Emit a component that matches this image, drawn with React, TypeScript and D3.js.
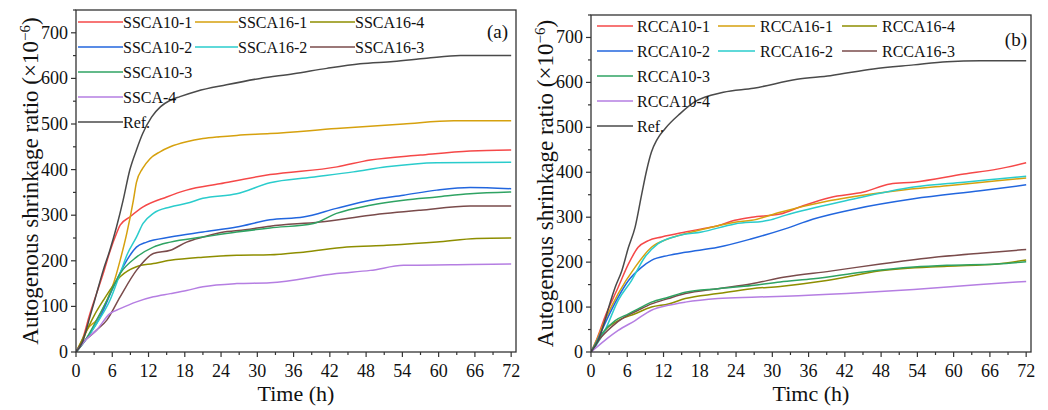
import React from "react";
import * as d3 from "d3";

type P = [number, number];

// ---------- Panel (a) data ----------
const refA: P[] = [[0,0],[1,20],[2.3,77],[3.4,128],[4.5,179],[5.6,223],[6.7,274],[7.8,333],[8.9,399],[10,443],[11,478],[12.5,515],[14,538],[15.6,552],[17.2,560],[20,572],[24.9,586],[30.5,600],[36,610],[41.5,622],[47,632],[52.5,637],[58,644],[63.6,650],[72,650]];
const ssca10_1: P[] = [[0,0],[1,25],[2.3,84],[3.4,128],[4.5,172],[5.6,220],[6.7,260],[7.3,278],[8.9,296],[11.1,318],[15,340],[18.3,355],[23.8,369],[32.1,389],[43.2,406],[48.7,421],[57,432],[65.2,441],[72,443]];
const ssca16_1: P[] = [[0,0],[1,20],[1.8,48],[3.4,70],[5.1,113],[6.2,150],[7.3,201],[8.4,260],[9.5,333],[10,372],[11,402],[12.25,424],[13.9,439],[15.6,450],[18.3,461],[21,468],[23.8,472],[26.6,475],[32.1,479],[43.1,490],[54.2,500],[62.5,507],[72,507]];
const ssca16_4: P[] = [[0,0],[1.8,48],[3,80],[4.5,113],[7.3,165],[10,187],[12.8,194],[15.6,201],[21,208],[26.6,212],[32.1,213],[37.6,219],[44.8,230],[51.4,234],[59.7,241],[66.3,249],[72,250]];
const ssca10_2: P[] = [[0,0],[1.5,25],[4,77],[6.2,143],[8.4,201],[10,230],[11.7,241],[15.6,252],[21,263],[26.6,274],[32.1,290],[37.6,296],[43.1,315],[48.7,333],[54.2,344],[59.7,355],[65.2,361],[72,358]];
const ssca16_2: P[] = [[0,0],[1.5,25],[3.4,62],[5.6,113],[7.3,172],[8.5,215],[10,252],[11.1,282],[12.8,304],[15.6,318],[18.3,326],[21,337],[26.6,347],[32.1,371],[39,383],[45.9,395],[51.4,406],[59.7,415],[72,416]];
const ssca16_3: P[] = [[0,0],[1,20],[1.8,29],[3.4,48],[5.1,70],[7.3,121],[10,179],[12.8,216],[15.6,223],[18.3,241],[21,252],[24,262],[28,268],[32.1,276],[40.4,285],[48.7,300],[57,311],[65.2,320],[72,320]];
const ssca10_3: P[] = [[0,0],[1.5,25],[3.4,70],[5.1,113],[7.3,172],[10,208],[12.8,230],[15.6,241],[21,252],[26.6,263],[32.1,272],[39.3,282],[43.1,304],[48.7,322],[54.2,333],[59.7,340],[65.2,347],[72,351]];
const ssca_4: P[] = [[0,0],[1.8,29],[3.4,48],[5.6,84],[7.3,95],[10,110],[12.8,121],[15.6,128],[18.3,135],[21,143],[26.6,150],[32.1,152],[43.1,172],[48.7,179],[54.2,190],[65.2,192],[72,193]];

// ---------- Panel (b) data ----------
const refB: P[] = [[0,0],[1.2,26],[2.3,70],[3.1,107],[4,144],[5.1,181],[6.2,233],[7.3,278],[8.4,352],[9.2,404],[10,445],[10.9,472],[12.25,497],[14.7,530],[17.2,557],[21.9,578],[26.9,587],[34.1,607],[39.6,615],[46.7,630],[53.4,639],[58.9,646],[64.4,648],[72,648]];
const rcca10_1: P[] = [[0,0],[1,30],[2.3,78],[4.5,144],[6.2,196],[7.8,233],[9.5,248],[11.7,256],[15.6,267],[18.3,274],[21,281],[23.8,293],[26.6,300],[31.3,307],[35,325],[39.6,344],[45.1,356],[49.5,374],[53.4,378],[61.7,396],[67.2,407],[72,421]];
const rcca16_1: P[] = [[0,0],[1,28],[2.3,70],[4.5,130],[7.3,189],[10,233],[12.8,252],[15.6,263],[21,281],[23.8,289],[26.6,293],[31.3,311],[39.6,337],[50.6,359],[58.9,370],[67.2,381],[72,387]];
const rcca16_4: P[] = [[0,0],[1,20],[2.3,48],[4.5,70],[7.3,85],[10,100],[12.8,107],[15.6,119],[21,130],[26.6,141],[31.3,146],[39,159],[47.9,181],[58.9,191],[67.2,196],[72,205]];
const rcca10_2: P[] = [[0,0],[1,25],[2.3,63],[4.5,122],[6.2,159],[8.4,189],[10,204],[12.8,215],[15.6,222],[21,233],[26.6,252],[32.1,274],[36.8,296],[43.9,319],[53.4,341],[64.4,359],[72,372]];
const rcca16_2: P[] = [[0,0],[1,18],[2.3,48],[4.5,115],[6.7,159],[8.9,211],[11.1,241],[14.5,259],[18.3,267],[23.8,285],[29.4,293],[32.1,304],[42.3,337],[53.4,367],[61.7,378],[67.2,385],[72,391]];
const rcca16_3: P[] = [[0,0],[1.5,30],[3.4,56],[5.6,78],[7.8,93],[10,107],[12.8,119],[15.6,130],[21,141],[26.6,152],[32.1,167],[39.6,180],[47.9,196],[56.2,210],[64.4,220],[72,228]];
const rcca10_3: P[] = [[0,0],[1.8,41],[4,70],[6.2,85],[7.8,96],[10,111],[12.8,122],[15.6,133],[21,141],[26.6,148],[31.3,156],[36.8,163],[45.1,178],[53.4,189],[58.9,193],[67.2,196],[72,201]];
const rcca10_4: P[] = [[0,0],[2.3,26],[4.5,48],[7.3,70],[10,93],[12.8,104],[15.6,111],[21,119],[26.6,122],[32.1,124],[42.3,130],[53.4,139],[64.4,150],[72,157]];

const namesA = ["SSCA10-1","SSCA16-1","SSCA16-4","SSCA10-2","SSCA16-2","SSCA16-3","SSCA10-3","SSCA-4","Ref."];
const namesB = ["RCCA10-1","RCCA16-1","RCCA16-4","RCCA10-2","RCCA16-2","RCCA16-3","RCCA10-3","RCCA10-4","Ref."];
const dataA = [ssca10_1, ssca16_1, ssca16_4, ssca10_2, ssca16_2, ssca16_3, ssca10_3, ssca_4, refA];
const dataB = [rcca10_1, rcca16_1, rcca16_4, rcca10_2, rcca16_2, rcca16_3, rcca10_3, rcca10_4, refB];
const colors = ["#F54848","#D6A10E","#8E8E00","#2266DE","#2ACCCC","#7A4B4B","#2FA363","#B57EE2","#4A4A4A"];

const xTicks = d3.range(0, 73, 6);
const xMinor = d3.range(3, 73, 6);
const yTicks = d3.range(0, 701, 100);
const yMinor = d3.range(50, 751, 100);

const FONT = "'Liberation Serif', 'Times New Roman', serif";

interface PanelProps {
  left: number; right: number; top: number; bottom: number;
  names: string[]; data: P[][]; tag: string; tagX: number; tagY: number;
  xTitle: string; yTitleX: number;
  legCols: { lx0: number; lx1: number; tx: number }[]; legRowY: number[];
}

function Panel(p: PanelProps) {
  const x = d3.scaleLinear().domain([0, 72.8]).range([p.left, p.right]);
  const y = d3.scaleLinear().domain([0, 750]).range([p.bottom, p.top]);
  const line = d3.line<P>().x(d => x(d[0])).y(d => y(d[1])).curve(d3.curveMonotoneX);
  const axisColor = "#333";
  const legPos = [[0,0],[1,0],[2,0],[0,1],[1,1],[2,1],[0,2],[0,3],[0,4]];
  return (
    <g fontFamily={FONT} fill="#111">
      <defs>
        <clipPath id={"clip" + p.tag.replace(/[()]/g, "")}>
          <rect x={p.left} y={p.top} width={p.right - p.left} height={p.bottom - p.top} />
        </clipPath>
      </defs>
      <g clipPath={`url(#clip${p.tag.replace(/[()]/g, "")})`}>
        {p.data.map((s, i) => (
          <path key={i} d={line(s) || ""} fill="none" stroke={colors[i]} strokeWidth={1.5} strokeLinejoin="round" />
        ))}
      </g>
      <rect x={p.left} y={p.top} width={p.right - p.left} height={p.bottom - p.top} fill="none" stroke={axisColor} strokeWidth={1.3} />
      {xTicks.map(t => (
        <g key={"xt" + t}>
          <line x1={x(t)} x2={x(t)} y1={p.bottom} y2={p.bottom + 5} stroke={axisColor} strokeWidth={1.2} />
          <text x={x(t)} y={p.bottom + 25} fontSize={18} textAnchor="middle">{t}</text>
        </g>
      ))}
      {xMinor.map(t => (
        <line key={"xm" + t} x1={x(t)} x2={x(t)} y1={p.bottom} y2={p.bottom + 3} stroke={axisColor} strokeWidth={1.2} />
      ))}
      {yTicks.map(v => (
        <g key={"yt" + v}>
          <line x1={p.left - 5} x2={p.left} y1={y(v)} y2={y(v)} stroke={axisColor} strokeWidth={1.2} />
          <text x={p.left - 8} y={y(v) + 6} fontSize={18} textAnchor="end">{v}</text>
        </g>
      ))}
      {yMinor.map(v => (
        <line key={"ym" + v} x1={p.left - 3} x2={p.left} y1={y(v)} y2={y(v)} stroke={axisColor} strokeWidth={1.2} />
      ))}
      <text x={(p.left + p.right) / 2} y={401} fontSize={22} textAnchor="middle">{p.xTitle}</text>
      <text transform={`translate(${p.yTitleX},${(p.top + p.bottom) / 2}) rotate(-90)`} fontSize={23} textAnchor="middle">
        Autogenous shrinkage ratio (×10<tspan dy={-8} fontSize={15}>−6</tspan><tspan dy={8}>)</tspan>
      </text>
      <text x={p.tagX} y={p.tagY} fontSize={19} textAnchor="end">{p.tag}</text>
      {p.names.map((n, i) => {
        const [c, r] = legPos[i];
        const col = p.legCols[c];
        const yy = p.legRowY[r];
        return (
          <g key={"lg" + i}>
            <line x1={col.lx0} x2={col.lx1} y1={yy} y2={yy} stroke={colors[i]} strokeWidth={1.5} />
            <text x={col.tx} y={yy + 6} fontSize={16}>{n}</text>
          </g>
        );
      })}
    </g>
  );
}

export default function App() {
  return (
    <svg width={1048} height={410} style={{ position: "absolute", left: 0, top: 0, background: "#fff" }}>
      <rect width={1048} height={410} fill="#fff" />
      <Panel left={76} right={516} top={10} bottom={352} names={namesA} data={dataA} tag="(a)" tagX={508} tagY={38}
        xTitle="Time (h)" yTitleX={38}
        legCols={[{ lx0: 78, lx1: 123, tx: 123 }, { lx0: 195, lx1: 238, tx: 238 }, { lx0: 310, lx1: 355, tx: 355 }]}
        legRowY={[22, 47, 72, 97, 122]} />
      <Panel left={591} right={1031} top={15} bottom={352} names={namesB} data={dataB} tag="(b)" tagX={1027} tagY={46}
        xTitle="Timc (h)" yTitleX={553}
        legCols={[{ lx0: 597, lx1: 633, tx: 637 }, { lx0: 718, lx1: 755, tx: 760 }, { lx0: 842, lx1: 877, tx: 882 }]}
        legRowY={[26, 51, 76, 101, 126]} />
    </svg>
  );
}
